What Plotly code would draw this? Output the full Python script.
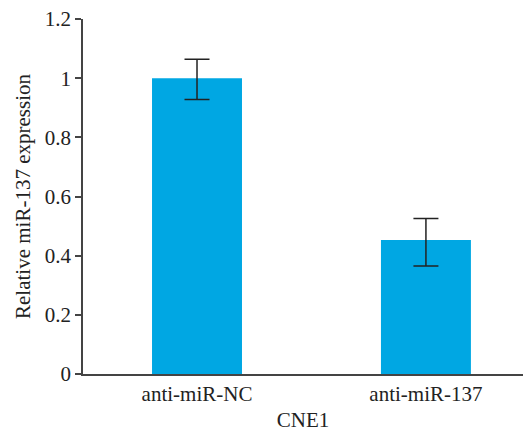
import plotly.graph_objects as go

categories = ["anti-miR-NC", "anti-miR-137"]
values = [1.0, 0.453]
err_plus = [0.064, 0.073]
err_minus = [0.072, 0.088]
y_ticks = [0, 0.2, 0.4, 0.6, 0.8, 1, 1.2]
y_ticktext = ["0", "0.2", "0.4", "0.6", "0.8", "1", "1.2"]

font_family = "Liberation Serif, Times New Roman, serif"

fig = go.Figure()
fig.add_trace(go.Bar(
    x=[0, 1],
    y=values,
    width=0.393,
    marker=dict(color="#00A7E3", line=dict(width=0)),
    error_y=dict(type="data", symmetric=False, array=err_plus, arrayminus=err_minus,
                 color="#222222", thickness=1.5, width=12.5),
))

fig.update_layout(
    width=515, height=424,
    margin=dict(l=75, r=0, t=11, b=58),
    plot_bgcolor="white", paper_bgcolor="white",
    showlegend=False,
    font=dict(family=font_family, size=21, color="#222222"),
    xaxis=dict(
        range=[-0.498, 1.424],
        tickmode="array", tickvals=[0, 1], ticktext=categories,
        showline=True, linecolor="#444444", linewidth=1.5,
        ticks="", showgrid=False, zeroline=False, automargin=False,
        title=dict(text="CNE1", standoff=12, font=dict(size=21)),
        tickfont=dict(size=21),
    ),
    yaxis=dict(
        range=[0, 1.2001],
        tickmode="array", tickvals=y_ticks, ticktext=y_ticktext,
        showline=True, linecolor="#444444", linewidth=1.5,
        ticks="outside", ticklen=6, tickcolor="#444444", tickwidth=1.5,
        showgrid=False, zeroline=False, automargin=False,
        ticklabeloverflow="allow",
        title=dict(text="Relative miR-137 expression", standoff=8, font=dict(size=21)),
        tickfont=dict(size=21),
    ),
)

fig.write_html("out.html")
